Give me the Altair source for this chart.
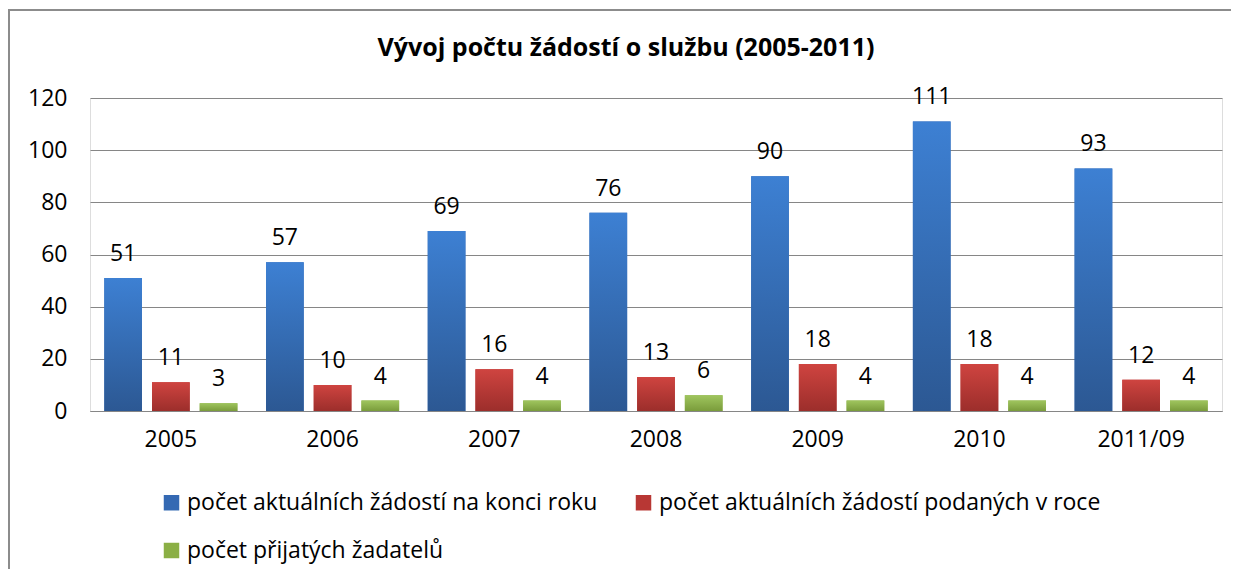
import altair as alt
import pandas as pd

title_text = "Vývoj počtu žádostí o službu (2005-2011)"
years = ["2005", "2006", "2007", "2008", "2009", "2010", "2011/09"]
series = [
    "počet aktuálních žádostí na konci roku",
    "počet aktuálních žádostí podaných v roce",
    "počet přijatých žadatelů",
]
current_end = [51, 57, 69, 76, 90, 111, 93]
submitted = [11, 10, 16, 13, 18, 18, 12]
accepted = [3, 4, 4, 6, 4, 4, 4]

colors = ["#3469B3", "#B83734", "#8BAF45"]
grads = [("#3D80D3", "#2C5893"), ("#CF4440", "#9C2E2B"), ("#9FC55E", "#7A9C3B")]

rows = []
for s, vals in zip(series, [current_end, submitted, accepted]):
    for y, v in zip(years, vals):
        rows.append({"year": y, "series": s, "value": v})
df = pd.DataFrame(rows)

FONT = "Open Sans"
FS = 23

x_enc = alt.X("year:N", sort=years, title=None,
              scale=alt.Scale(paddingInner=0.177, paddingOuter=0.0885),
              axis=alt.Axis(labelAngle=0, ticks=False, domain=True, domainColor="#868686",
                            labelFontSize=FS, labelColor="#000000", labelPadding=17,
                            labelFont=FONT, grid=False))
xo_enc = alt.XOffset("series:N", sort=series,
                     scale=alt.Scale(domain=series, paddingInner=0.21, paddingOuter=0))
y_enc = alt.Y("value:Q", title=None,
              scale=alt.Scale(domain=[0, 120], nice=False),
              axis=alt.Axis(values=[0, 20, 40, 60, 80, 100, 120], ticks=False, domain=False,
                            gridColor="#868686", gridWidth=1, labelFontSize=FS,
                            labelColor="#000000", labelPadding=23, labelFont=FONT))

base = alt.Chart(df)

bars = base.mark_bar().encode(
    x=x_enc, xOffset=xo_enc, y=y_enc,
    color=alt.Color("series:N", sort=series,
                    scale=alt.Scale(domain=series, range=colors),
                    legend=alt.Legend(title=None, orient="none", legendX=70, legendY=393,
                                      direction="horizontal", columns=2, columnPadding=34,
                                      rowPadding=24, symbolType="square", symbolSize=240,
                                      symbolStrokeWidth=0, labelFontSize=FS, labelFont=FONT,
                                      labelColor="#000000", labelLimit=800, labelOffset=4)),
)

grad_layers = []
for s, (top, bottom) in zip(series, grads):
    grad_layers.append(
        base.transform_filter(alt.datum.series == s).mark_bar(
            fill=alt.Gradient(gradient="linear",
                              stops=[alt.GradientStop(color=top, offset=0),
                                     alt.GradientStop(color=bottom, offset=1)],
                              x1=0, x2=0, y1=0, y2=1)
        ).encode(x=x_enc, xOffset=xo_enc, y=y_enc)
    )

labels = base.mark_text(baseline="alphabetic", dy=-17, fontSize=FS, font=FONT,
                        color="#000000").encode(
    x=x_enc, xOffset=xo_enc, y=y_enc, text=alt.Text("value:Q"))

title = alt.Chart(pd.DataFrame({"t": [title_text]})).mark_text(
    fontSize=25, font=FONT, fontWeight="bold", color="#000000",
    align="center", baseline="middle"
).encode(text="t:N", x=alt.value(536), y=alt.value(-50))

frame = pd.DataFrame({"a": [0]})
left_edge = alt.Chart(frame).mark_rule(stroke="#8C8C8C", strokeWidth=2).encode(
    x=alt.value(-81), y=alt.value(-89), y2=alt.value(700))
top_edge = alt.Chart(frame).mark_rule(stroke="#8C8C8C", strokeWidth=2).encode(
    x=alt.value(-82), x2=alt.value(1400), y=alt.value(-88))

chart = alt.layer(left_edge, top_edge, bars, *grad_layers, labels, title).properties(
    width=1132, height=313,
    autosize=alt.AutoSizeParams(type="none"),
    padding={"left": 82, "top": 90, "right": 9, "bottom": 158},
).configure_view(stroke=None).configure(background="#FFFFFF")

chart.save("out.html", embed_options={"renderer": "svg", "actions": False})
